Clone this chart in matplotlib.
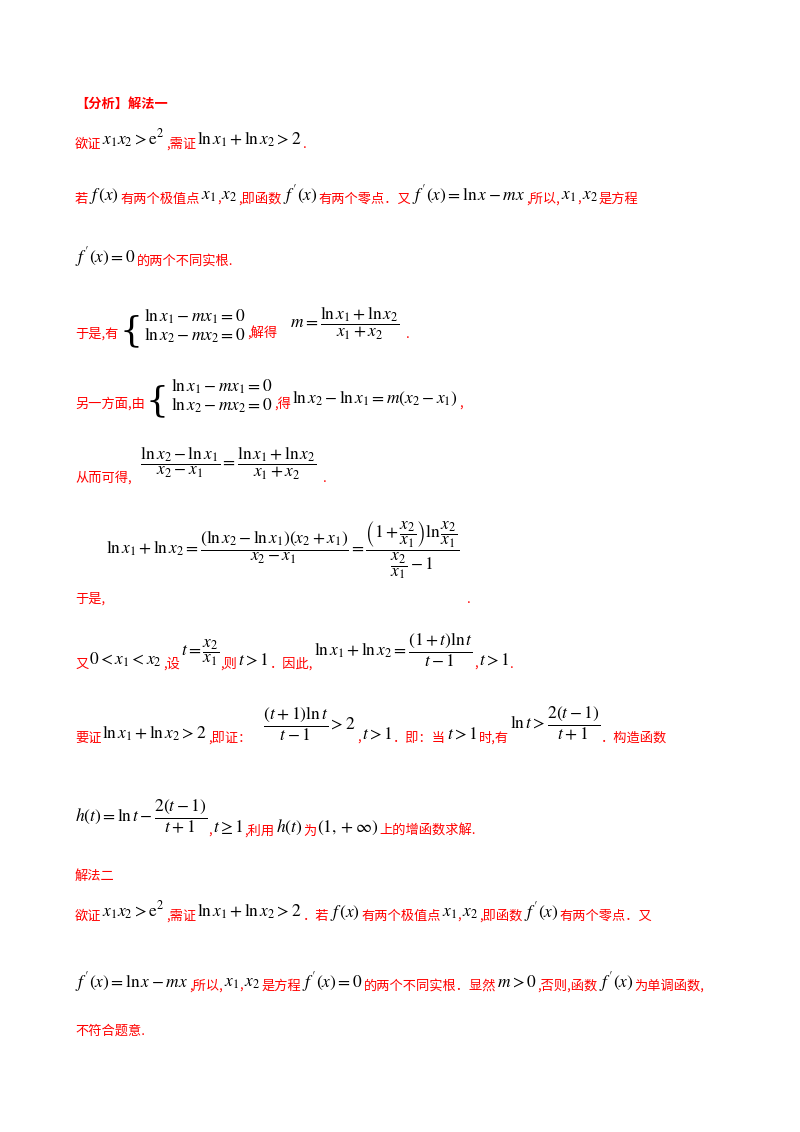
import matplotlib
matplotlib.use("Agg")
import matplotlib.pyplot as plt

plt.rcParams['font.family'] = ['Noto Sans CJK SC', 'DejaVu Sans']
plt.rcParams['mathtext.fontset'] = 'stix'

R = '#ff0000'
K = 'black'
M = 12.5

# each line: (x, y_baseline, [(text, color, dy, size)])
lines = [
    (75, 108, [("【分析】解法一", R, 0, 9.5)]),
    (75, 148, [("欲证", R, 0, 9.5), (r"$x_1x_2>\mathrm{e}^2$", K, 3, M), (",需证", R, 0, 9.5),
               (r"$\ln x_1+\ln x_2>2$", K, 3, M), (".", R, 0, 9.5)]),
    (75, 203, [("若", R, 0, 9.5), (r"$f\,(x)$", K, 3, M), ("有两个极值点", R, 0, 9.5), (r"$x_1$", K, 3, M),
               (",", R, 0, 9.5), (r"$x_2$", K, 3, M), (",即函数", R, 0, 9.5), (r"$f\,'(x)$", K, 3, M),
               ("有两个零点．又", R, 0, 9.5), (r"$f\,'(x)=\ln x-mx$", K, 3, M), (",所以,", R, 0, 9.5),
               (r"$x_1$", K, 3, M), (",", R, 0, 9.5), (r"$x_2$", K, 3, M), ("是方程", R, 0, 9.5)]),
    (75, 265, [(r"$f\,'(x)=0$", K, 3, M), ("的两个不同实根.", R, 0, 9.5)]),
    (75, 338, [("于是,有", R, 0, 9.5), ("SYS", K, 0, M), (",解得", R, 0, 9.5),
               (r"   $m=\dfrac{\ln x_1+\ln x_2}{x_1+x_2}$", K, 10, M), ("  .", R, 0, 9.5)]),
    (75, 408, [("另一方面,由", R, 0, 9.5), ("SYS", K, 0, M), (",得", R, 0, 9.5),
               (r"$\ln x_2-\ln x_1=m\left(x_2-x_1\right)$", K, 5, M), (",", R, 0, 9.5)]),
    (75, 482, [("从而可得,", R, 0, 9.5), (r"  $\dfrac{\ln x_2-\ln x_1}{x_2-x_1}=\dfrac{\ln x_1+\ln x_2}{x_1+x_2}$", K, 14, M),
               ("  .", R, 0, 9.5)]),
    (75, 603, [("于是,", R, 0, 9.5),
               (r"$\ln x_1+\ln x_2=\dfrac{\left(\ln x_2-\ln x_1\right)\left(x_2+x_1\right)}{x_2-x_1}=\dfrac{\left(1+\dfrac{x_2}{x_1}\right)\ln\dfrac{x_2}{x_1}}{\dfrac{x_2}{x_1}-1}$", K, 50, M),
               ("  .", R, 0, 9.5)]),
    (75, 668, [("又", R, 0, 9.5), (r"$0<x_1<x_2$", K, 3, M), (",设", R, 0, 9.5),
               (r"$t=\dfrac{x_2}{x_1}$", K, 12, M), (",则", R, 0, 9.5), (r"$t>1$", K, 3, M),
               ("．因此,", R, 0, 9.5), (r"$\ln x_1+\ln x_2=\dfrac{(1+t)\ln t}{t-1}$", K, 12, M),
               (",", R, 0, 9.5), (r"$t>1$", K, 3, M), (".", R, 0, 9.5)]),
    (75, 742, [("要证", R, 0, 9.5), (r"$\ln x_1+\ln x_2>2$", K, 3, M), (",即证：", R, 0, 9.5),
               (r"   $\dfrac{(t+1)\ln t}{t-1}>2$", K, 12, M), (",", R, 0, 9.5), (r"$t>1$", K, 3, M),
               ("．即：当", R, 0, 9.5), (r"$t>1$", K, 3, M), ("时,有", R, 0, 9.5),
               (r"$\ln t>\dfrac{2(t-1)}{t+1}$", K, 14, M), ("．构造函数", R, 0, 9.5)]),
    (75, 835, [(r"$h(t)=\ln t-\dfrac{2(t-1)}{t+1}$", K, 14, M), (",", R, 0, 9.5), (r"$t\geq 1$", K, 3, M),
               (",利用", R, 0, 9.5), (r"$h(t)$", K, 3, M), ("为", R, 0, 9.5), (r"$(1,+\infty)$", K, 3, M),
               ("上的增函数求解.", R, 0, 9.5)]),
    (75, 880, [("解法二", R, 0, 9.5)]),
    (75, 920, [("欲证", R, 0, 9.5), (r"$x_1x_2>\mathrm{e}^2$", K, 3, M), (",需证", R, 0, 9.5),
               (r"$\ln x_1+\ln x_2>2$", K, 3, M), ("．若", R, 0, 9.5), (r"$f\,(x)$", K, 3, M),
               ("有两个极值点", R, 0, 9.5), (r"$x_1$", K, 3, M), (",", R, 0, 9.5), (r"$x_2$", K, 3, M),
               (",即函数", R, 0, 9.5), (r"$f\,'(x)$", K, 3, M), ("有两个零点．又", R, 0, 9.5)]),
    (75, 990, [(r"$f\,'(x)=\ln x-mx$", K, 3, M), (",所以,", R, 0, 9.5), (r"$x_1$", K, 3, M), (",", R, 0, 9.5),
               (r"$x_2$", K, 3, M), ("是方程", R, 0, 9.5), (r"$f\,'(x)=0$", K, 3, M),
               ("的两个不同实根．显然", R, 0, 9.5), (r"$m>0$", K, 3, M), (",否则,函数", R, 0, 9.5),
               (r"$f\,'(x)$", K, 3, M), ("为单调函数,", R, 0, 9.5)]),
    (75, 1035, [("不符合题意.", R, 0, 9.5)]),
]
system_rows = [r"$\ln x_1-mx_1=0$", r"$\ln x_2-mx_2=0$"]

fig = plt.figure(figsize=(8, 11.32), dpi=100)
ax = fig.add_axes([0, 0, 1, 1])
ax.set_xlim(0, 800)
ax.set_ylim(1132, 0)
ax.axis('off')
renderer = fig.canvas.get_renderer()
inv = ax.transData.inverted()

def width(t):
    bb = t.get_window_extent(renderer)
    return inv.transform((bb.x1, 0))[0] - inv.transform((bb.x0, 0))[0]

for x, y, segs in lines:
    for txt, col, dy, sz in segs:
        if txt == "SYS":
            br = ax.text(x, y - 7, "{", fontsize=26, color=K, va='center', ha='left',
                         family='DejaVu Serif', fontweight='light')
            x0 = x + width(br) + 2
            t1 = ax.text(x0, y - 16, system_rows[0], fontsize=M, color=K, va='baseline')
            t2 = ax.text(x0, y + 3, system_rows[1], fontsize=M, color=K, va='baseline')
            x = x0 + max(width(t1), width(t2)) + 2
            continue
        t = ax.text(x, y - dy, txt, fontsize=sz, color=col, va='baseline', ha='left',
                    fontweight='bold' if txt.startswith("【") else 'normal')
        x += width(t) + 1

fig.savefig("out.png", dpi=100)
